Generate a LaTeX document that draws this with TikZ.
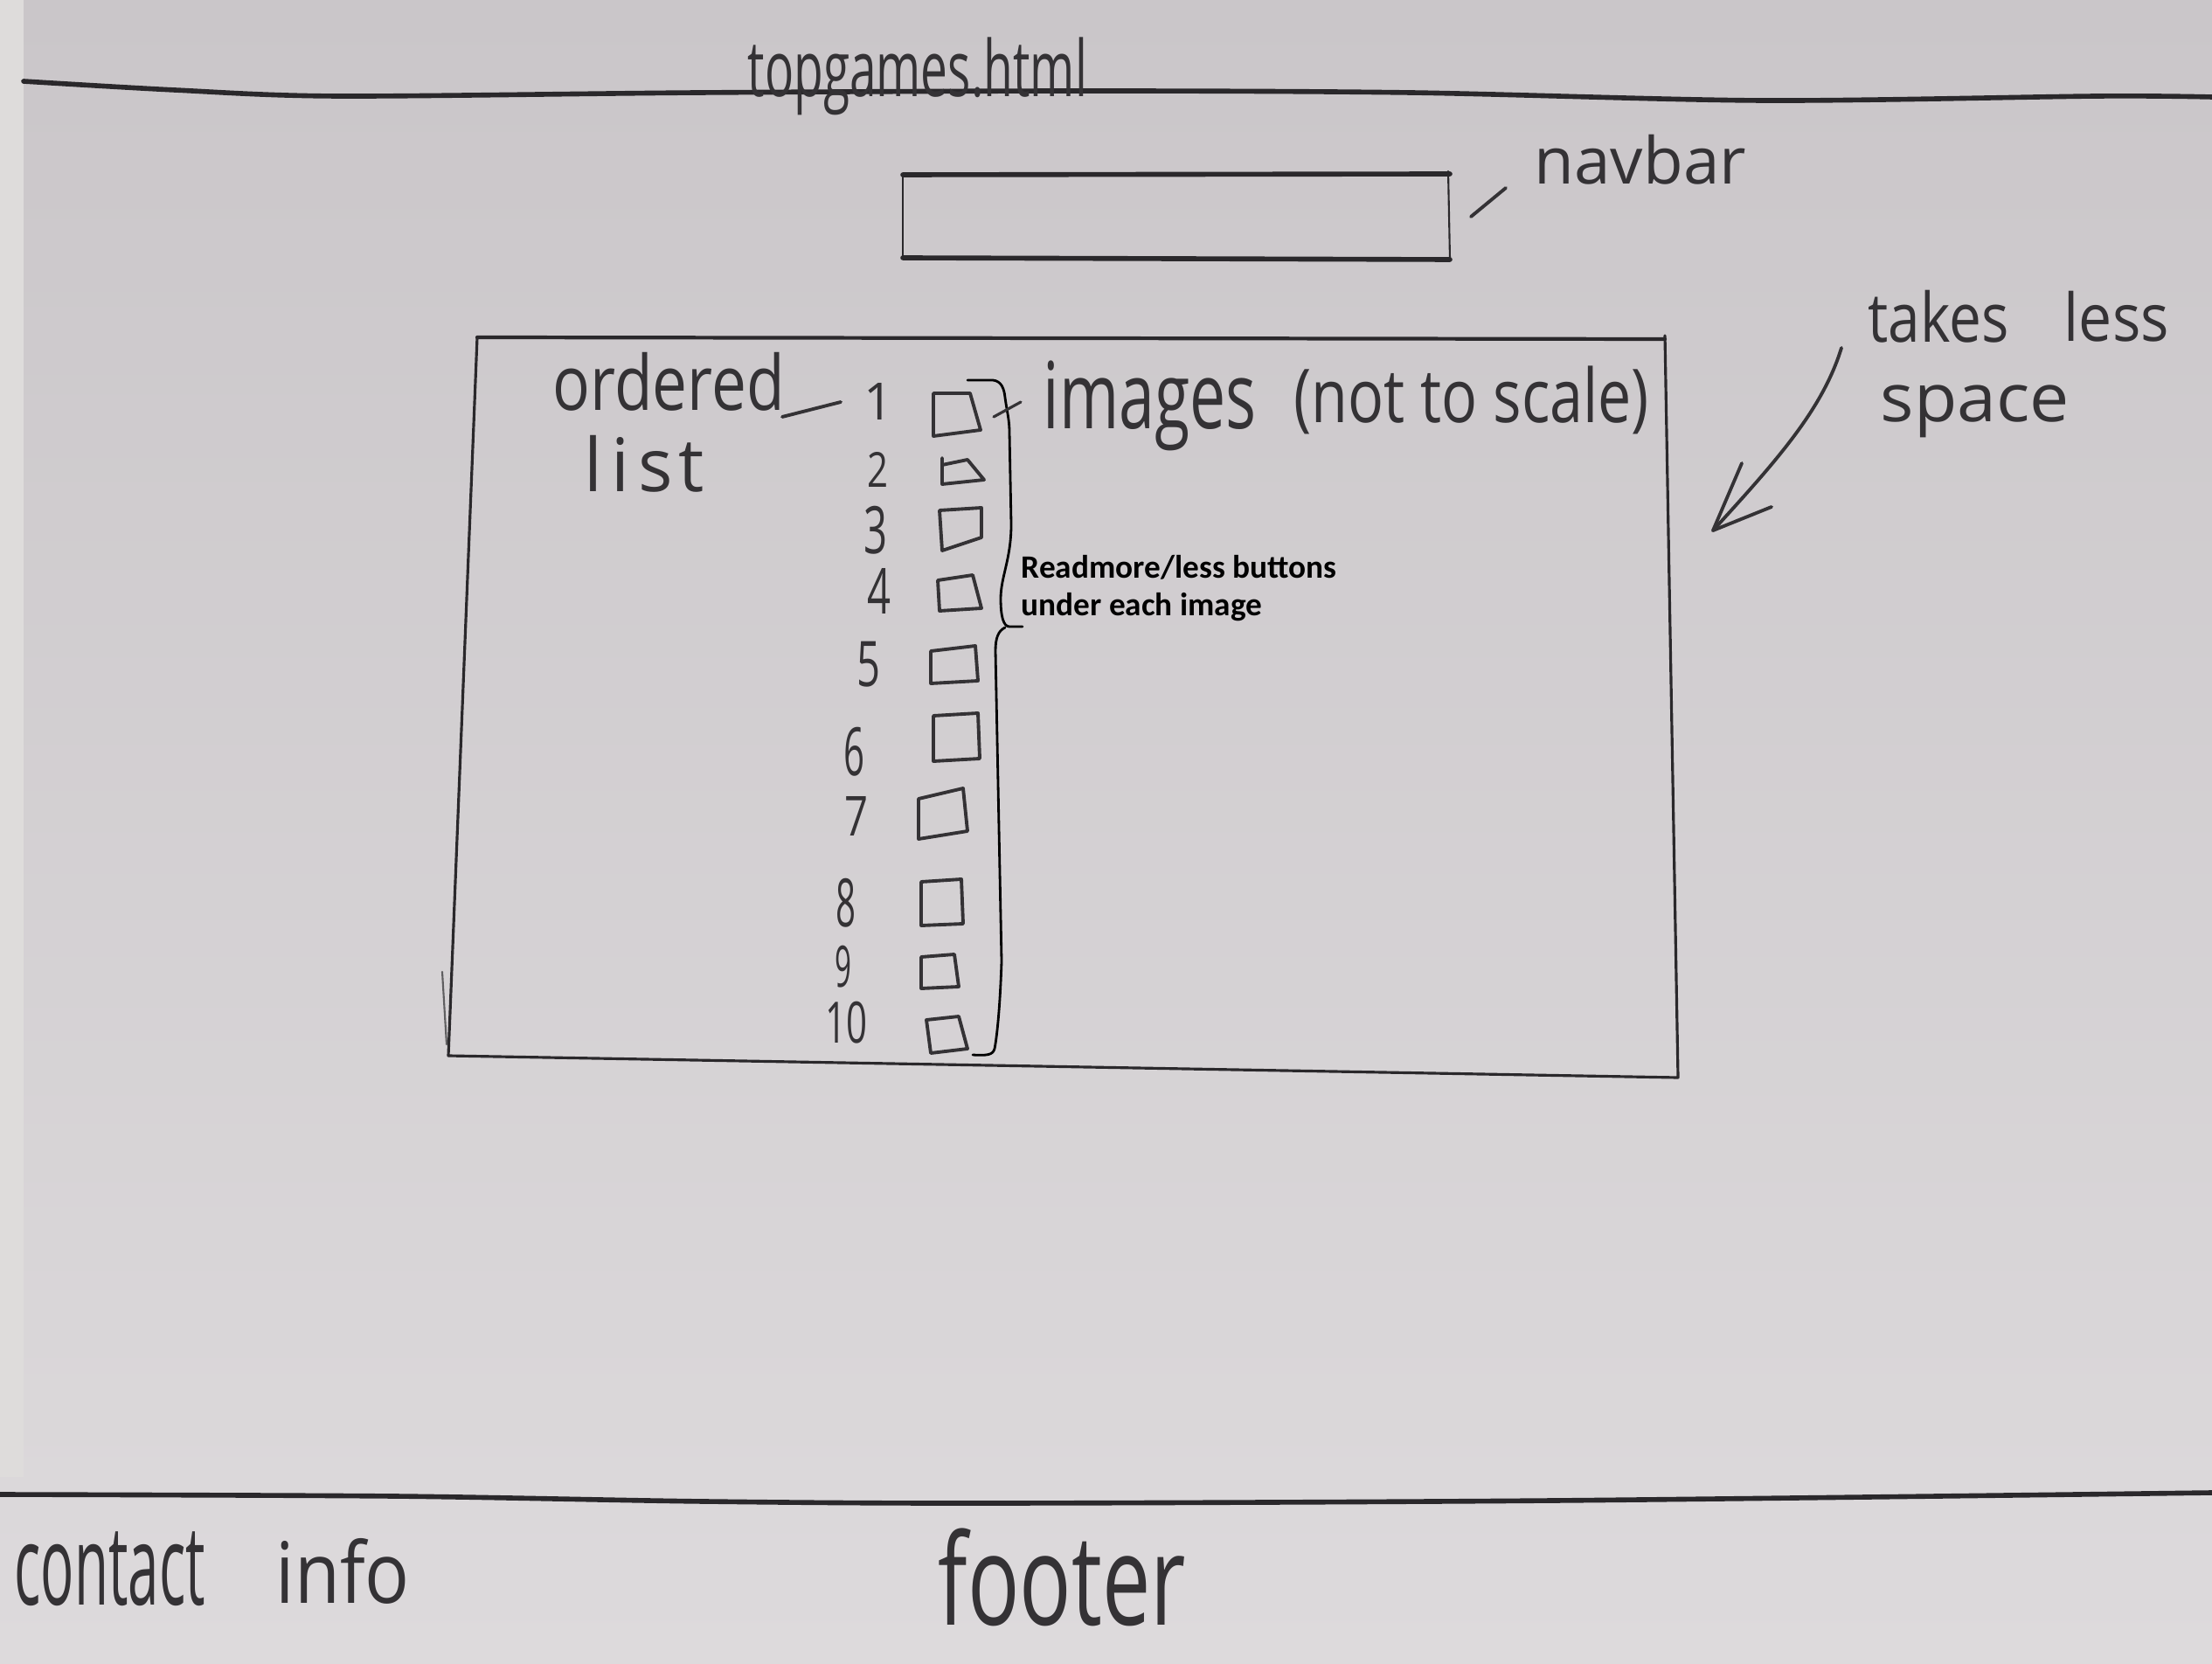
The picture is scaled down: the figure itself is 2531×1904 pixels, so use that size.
\documentclass[tikz,border=0pt]{standalone}
\usepackage{fontspec}
\usepackage{graphicx}
\newfontfamily\handfont{Open Sans}
\newfontfamily\typedfont{Carlito}
\definecolor{paperTop}{RGB}{202,198,201}
\definecolor{paperBottom}{RGB}{221,218,220}
\definecolor{paperEdge}{RGB}{222,220,219}
\definecolor{pencil}{RGB}{42,40,43}
\definecolor{ink}{RGB}{52,50,53}
% handwritten word stretched to a given width and total height
\newcommand\handtext[3]{\resizebox*{#1}{#2}{\handfont #3}}

\begin{document}
\begin{tikzpicture}[x=0.01cm,y=-0.01cm,
  rule/.style={draw=pencil,line width=1.6pt,line cap=round,line join=round},
  frame/.style={draw=pencil,line width=0.9pt,line cap=round,line join=round},
  thinside/.style={draw=pencil,line width=0.6pt,line cap=round},
  pen/.style={draw=ink,line width=1.1pt,line cap=round,line join=round},
  label/.style={inner sep=0pt,anchor=north west,text=ink},
  num/.style={inner sep=0pt,anchor=center,text=ink},
  typed/.style={inner sep=0pt,anchor=base west,text=black,
    font=\typedfont\bfseries\fontsize{10.6pt}{12pt}\selectfont},
  brace/.style={draw=black,line width=0.8pt,line cap=round,line join=round}]

\useasboundingbox (0,0) rectangle (2531,1904);

% paper
\shade[top color=paperTop,bottom color=paperBottom] (0,0) rectangle (2531,1904);
\fill[paperEdge] (0,0) rectangle (27,1690);

% header rule and page name
\draw[rule] plot[smooth] coordinates {(27,93) (200,103) (387,110) (800,106) (1243,104) (1614,106) (2017,115) (2400,110) (2531,111)};
\node[label] (title) at (855,42) {\handtext{3.88cm}{0.89cm}{topgames.html}};

% navbar box
\coordinate (navTL) at (1033,200);
\coordinate (navTR) at (1659,199);
\coordinate (navBR) at (1659,297);
\coordinate (navBL) at (1033,295);
\draw[rule] (navTL) -- (navTR);
\draw[rule] (navBL) -- (navBR);
\draw[thinside] (navTL) -- (navBL);
\draw[thinside] (1657,196) -- (navBR);
\node[label] (navlabel) at (1755,153) {\handtext{2.42cm}{0.57cm}{navbar}};
\coordinate (tickA) at (1683,248);
\coordinate (tickB) at (1723,215);
\draw[pen] (tickA) -- (tickB);

% content box
\coordinate (boxTL) at (546,386);
\coordinate (boxTR) at (1905,388);
\coordinate (boxBR) at (1920,1233);
\coordinate (boxBL) at (513,1208);
\draw[rule,line width=1.2pt] (boxTL) -- (boxTR);
\draw[frame] (boxTL) -- (boxBL) -- (boxBR) -- (1905,384);
\draw[thinside,draw=pencil!75] (506,1112) -- (511,1195);

% ordered list label
\node[label] (ordered) at (632,403) {\handtext{2.65cm}{0.67cm}{ordered}};
\node[label] (list) at (668,498) {\handtext{1.37cm}{0.65cm}{l\kern0.12em i\kern0.12em s\kern0.08em t}};
\coordinate (dashA) at (895,477);
\coordinate (dashB) at (962,460);
\draw[pen] (dashA) -- (dashB);

% list numbers
\node[num] (num1) at (1005,459) {\resizebox*{!}{0.42cm}{\handfont 1}};
\foreach \n/\x/\y/\w/\h in {2/1004/537/0.24cm/0.40cm,
    3/1002/607/0.27cm/0.55cm, 4/1006/676/0.27cm/0.52cm, 5/994/760/0.27cm/0.52cm,
    6/977/860/0.24cm/0.56cm, 7/980/934/0.27cm/0.45cm, 8/968/1033/0.23cm/0.56cm,
    9/965/1106/0.19cm/0.48cm, 10/968/1170/0.48cm/0.48cm}
  \node[num] (num\n) at (\x,\y) {\handtext{\w}{\h}{\n}};

% image placeholders
\draw[pen] (1068,450) -- (1110,450) -- (1122,492) -- (1068,499) -- cycle;
\draw[pen] (1078,524) -- (1078,554) -- (1126,549) -- (1107,526) -- (1078,532);
\draw[pen] (1075,584) -- (1123,581) -- (1123,615) -- (1078,630) -- cycle;
\draw[pen] (1073,664) -- (1113,658) -- (1123,696) -- (1075,699) -- cycle;
\draw[pen] (1065,745) -- (1116,739) -- (1119,779) -- (1065,782) -- cycle;
\draw[pen] (1068,819) -- (1119,816) -- (1121,868) -- (1068,871) -- cycle;
\draw[pen] (1051,914) -- (1102,902) -- (1107,951) -- (1051,960) -- cycle;
\draw[pen] (1054,1009) -- (1100,1006) -- (1102,1057) -- (1054,1059) -- cycle;
\draw[pen] (1054,1095) -- (1092,1092) -- (1097,1129) -- (1054,1131) -- cycle;
\draw[pen] (1060,1167) -- (1097,1163) -- (1107,1200) -- (1065,1205) -- cycle;

% brace over the images
\draw[brace] (1107,435) -- (1136,435) .. controls (1146,436) and (1149,445) .. (1150,455)
  .. controls (1152,470) and (1155,480) .. (1155,495) -- (1157,600)
  .. controls (1157,640) and (1145,660) .. (1145,685)
  .. controls (1145,705) and (1148,717) .. (1155,717) -- (1170,717);
\draw[brace] (1150,718) .. controls (1142,722) and (1139,730) .. (1139,745) -- (1146,1100)
  .. controls (1144,1160) and (1140,1190) .. (1138,1200)
  .. controls (1136,1207) and (1130,1208) .. (1113,1207);

% images note
\coordinate (plusA) at (1137,477);
\coordinate (plusB) at (1168,460);
\draw[pen,line width=0.9pt] (plusA) -- (plusB);
\node[label] (images) at (1193,412) {\handtext{2.44cm}{1.03cm}{images}};
\node[label] (notscale) at (1480,418) {\handtext{4.06cm}{0.78cm}{(not to scale)}};

% typed note
\node[typed] (readmore) at (1168,662) {Readmore/less buttons};
\node[typed] (undereach) at (1168,705) {under each image};

% side note with arrow
\node[label] (takes) at (2137,332) {\handtext{1.61cm}{0.60cm}{takes}};
\node[label] (less) at (2361,332) {\handtext{1.20cm}{0.58cm}{less}};
\node[label] (space) at (2151,440) {\handtext{2.16cm}{0.60cm}{space}};
\coordinate (arrStart) at (2107,398);
\coordinate (arrTip) at (1960,607);
\draw[pen] (arrStart) .. controls (2085,470) and (2030,530) .. (arrTip);
\draw[pen] (1993,530) -- (arrTip) -- (2027,580);

% footer rule and labels
\draw[rule] plot[smooth] coordinates {(0,1710) (452,1712) (807,1718) (1130,1720) (1776,1717) (2531,1708)};
\node[label] (contact) at (16,1752) {\handtext{2.18cm}{0.85cm}{contact}};
\node[label] (info) at (315,1760) {\handtext{1.53cm}{0.75cm}{info}};
\node[label] (footer) at (1073,1748) {\handtext{2.83cm}{1.12cm}{footer}};
\end{tikzpicture}
\end{document}
